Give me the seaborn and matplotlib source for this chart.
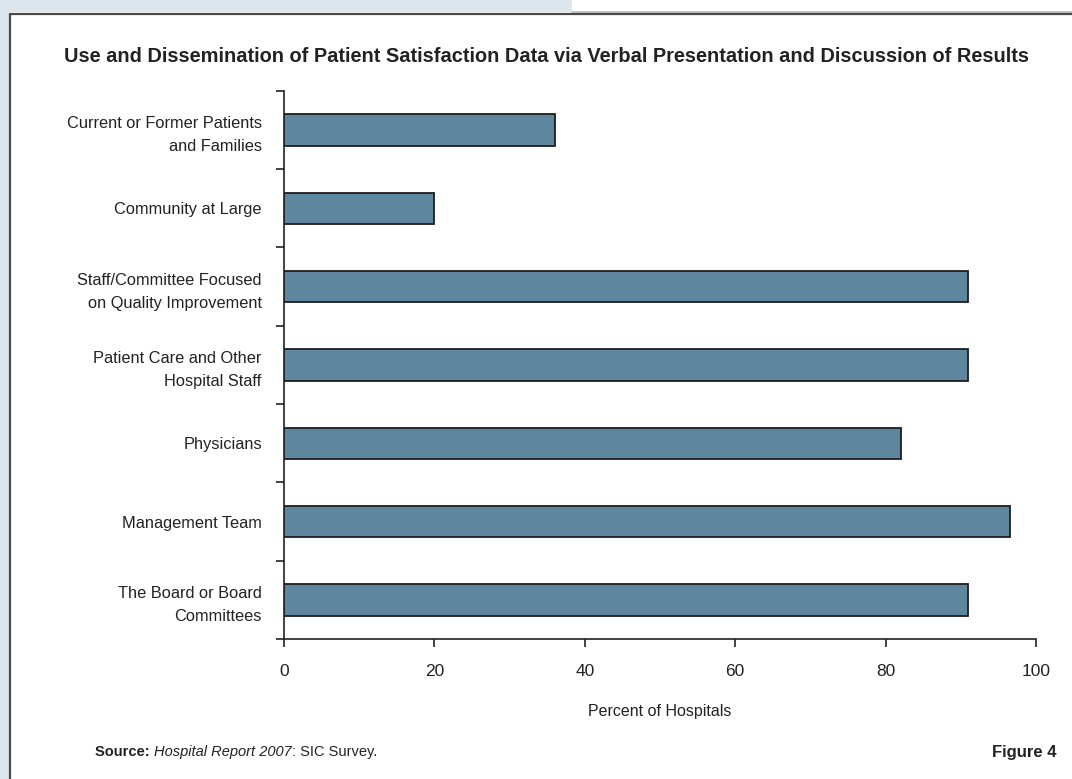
import matplotlib
matplotlib.use("Agg")
import matplotlib.pyplot as plt
import seaborn as sns
import pandas as pd
from matplotlib.patches import Rectangle
from matplotlib.lines import Line2D
from matplotlib.ticker import FixedLocator

# Audiences for verbal presentation of results, top to bottom
categories = [
    "Current or Former Patients\nand Families",
    "Community at Large",
    "Staff/Committee Focused\non Quality Improvement",
    "Patient Care and Other\nHospital Staff",
    "Physicians",
    "Management Team",
    "The Board or Board\nCommittees",
]
percent = [36, 20, 91, 91, 82, 96.5, 91]
x_ticks = [0, 20, 40, 60, 80, 100]

sns.set_theme(style="white")
SANS = ["Liberation Sans", "DejaVu Sans"]
plt.rcParams["font.family"] = SANS
TXT = "#222222"

df = pd.DataFrame({"audience": categories, "pct": percent})

W, H = 1072, 779
fig = plt.figure(figsize=(W / 100, H / 100), dpi=100)
fig.patch.set_facecolor("white")

# page decoration: tinted band and frame
band = "#dde5ed"
fig.add_artist(Rectangle((0, 0), 9 / W, 1, transform=fig.transFigure,
                         facecolor=band, edgecolor="none", zorder=0))
fig.add_artist(Rectangle((0, 1 - 12 / H), 572 / W, 12 / H, transform=fig.transFigure,
                         facecolor=band, edgecolor="none", zorder=0))
fig.add_artist(Line2D([572 / W, 1], [1 - 11.5 / H] * 2, transform=fig.transFigure,
                      color="#bbbbbb", lw=1.2))
fig.add_artist(Line2D([9.5 / W, 1], [1 - 13.5 / H] * 2, transform=fig.transFigure,
                      color="#4a4a4a", lw=1.6))
fig.add_artist(Line2D([9.5 / W, 9.5 / W], [0, 1 - 13.5 / H], transform=fig.transFigure,
                      color="#4a4a4a", lw=1.6))

left, right = 284 / W, 1036 / W
top, bottom = 1 - 90.7 / H, 1 - 639 / H
ax = fig.add_axes([left, bottom, right - left, top - bottom])
ax.set_facecolor("white")

sns.barplot(data=df, x="pct", y="audience", orient="h", order=categories,
            color="#5e869f", saturation=1, width=0.4,
            edgecolor="#1e1e1e", linewidth=1.3, ax=ax)

ax.set_xlim(0, 100)
ax.set_ylim(len(categories) - 0.5, -0.5)
ax.set_xticks(x_ticks)
ax.set_xticklabels([str(t) for t in x_ticks], fontsize=12.5, color=TXT)
ax.tick_params(axis="x", direction="out", length=6, width=1.2, color="#222222",
               pad=12, bottom=True)

# category labels centred on bars, ticks on category boundaries
ax.set_yticks(range(len(categories)))
ax.set_yticklabels(categories, fontsize=11.8, color=TXT, linespacing=1.65)
ax.tick_params(axis="y", which="major", length=0, pad=16)
ax.yaxis.set_minor_locator(FixedLocator([i - 0.5 for i in range(len(categories) + 1)]))
ax.tick_params(axis="y", which="minor", direction="out", length=6, width=1.2,
               color="#222222", left=True)

for s in ["top", "right"]:
    ax.spines[s].set_visible(False)
for s in ["left", "bottom"]:
    ax.spines[s].set_color("#222222")
    ax.spines[s].set_linewidth(1.2)

ax.set_xlabel("Percent of Hospitals", fontsize=11.5, color=TXT, labelpad=18)
ax.set_ylabel("")

fig.text(546 / W, 1 - 57 / H,
         "Use and Dissemination of Patient Satisfaction Data via Verbal Presentation and Discussion of Results",
         ha="center", va="center", fontsize=14.4, fontweight="bold", color=TXT)

fig.text(1057 / W, 1 - 752 / H, "Figure 4", ha="right", va="center",
         fontsize=12, fontweight="bold", color=TXT)

# source line built from styled pieces
renderer = fig.canvas.get_renderer()
x0 = 95 / W
y0 = 1 - 752 / H
pieces = [("Source: ", dict(fontweight="bold")),
          ("Hospital Report 2007", dict(fontstyle="italic")),
          (": SIC Survey.", dict())]
for txt, kw in pieces:
    t = fig.text(x0, y0, txt, ha="left", va="center", fontsize=10.5, color=TXT,
                 **kw)
    bb = t.get_window_extent(renderer=renderer)
    x0 = bb.x1 / W

fig.savefig("out.png", dpi=100)
